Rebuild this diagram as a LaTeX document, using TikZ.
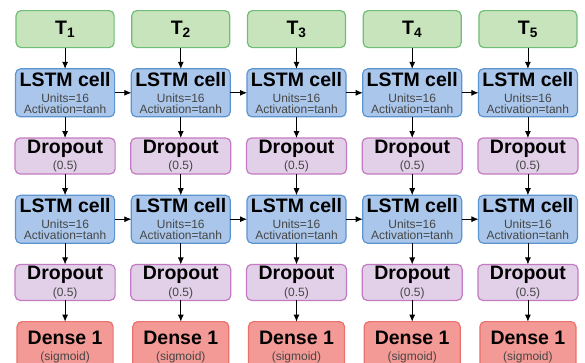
\documentclass[tikz,border=0pt]{standalone}
\usepackage{fontspec}
\setmainfont{Liberation Sans}
\usetikzlibrary{positioning,matrix,arrows.meta}
\definecolor{tgreen}{RGB}{112,190,118}
\definecolor{tgreenfill}{RGB}{200,228,188}
\definecolor{lblue}{RGB}{92,148,208}
\definecolor{lbluefill}{RGB}{170,199,235}
\definecolor{dpurple}{RGB}{196,122,194}
\definecolor{dpurplefill}{RGB}{226,208,232}
\definecolor{dred}{RGB}{236,112,108}
\definecolor{dredfill}{RGB}{244,154,150}
\definecolor{subgray}{RGB}{70,70,70}
\newcommand{\ttl}[1]{{\fontsize{19.5}{20}\selectfont\bfseries\color{black}#1}}
\tikzset{
netpic/.style={
  x=1pt,y=1pt
    ,inner sep=0pt
    ,outer sep=0pt
}
,box/.style={rounded corners=5pt,line width=1.2pt,align=center
  ,minimum width=98pt,text=subgray
  ,font=\fontsize{12}{11}\selectfont}
,timestep/.style={box,draw=tgreen,fill=tgreenfill,minimum height=37pt}
,lstm/.style={box,draw=lblue,fill=lbluefill,minimum height=48pt,minimum width=99pt}
,drop/.style={box,draw=dpurple,fill=dpurplefill,minimum height=36pt,minimum width=100pt}
,dense/.style={box,draw=dred,fill=dredfill,minimum height=50pt,minimum width=96pt}
,flow/.style={-{Latex[length=7pt,width=6pt]},line width=0.8pt,black}
,net/.style={column sep=14.5pt,row sep=20pt,inner sep=0pt,outer sep=0pt}
}

\begin{document}
\begin{tikzpicture}[netpic]
  \useasboundingbox (0,0) rectangle (585,-362);
  % network
  \matrix[net,anchor=north] (net) at (296.5,-10) {
    \node[timestep] (t1) {\ttl{T\textsubscript{1}}}; &
    \node[timestep] (t2) {\ttl{T\textsubscript{2}}}; &
    \node[timestep] (t3) {\ttl{T\textsubscript{3}}}; &
    \node[timestep] (t4) {\ttl{T\textsubscript{4}}}; &
    \node[timestep] (t5) {\ttl{T\textsubscript{5}}};
    \\
    \node[lstm] (lstma1) {\ttl{LSTM cell}\\[5pt]Units=16\\Activation=tanh}; &
    \node[lstm] (lstma2) {\ttl{LSTM cell}\\[5pt]Units=16\\Activation=tanh}; &
    \node[lstm] (lstma3) {\ttl{LSTM cell}\\[5pt]Units=16\\Activation=tanh}; &
    \node[lstm] (lstma4) {\ttl{LSTM cell}\\[5pt]Units=16\\Activation=tanh}; &
    \node[lstm] (lstma5) {\ttl{LSTM cell}\\[5pt]Units=16\\Activation=tanh};
    \\
    \node[drop] (dropa1) {\ttl{Dropout}\\[3pt](0.5)}; &
    \node[drop] (dropa2) {\ttl{Dropout}\\[3pt](0.5)}; &
    \node[drop] (dropa3) {\ttl{Dropout}\\[3pt](0.5)}; &
    \node[drop] (dropa4) {\ttl{Dropout}\\[3pt](0.5)}; &
    \node[drop] (dropa5) {\ttl{Dropout}\\[3pt](0.5)};
    \\
    \node[lstm] (lstmb1) {\ttl{LSTM cell}\\[5pt]Units=16\\Activation=tanh}; &
    \node[lstm] (lstmb2) {\ttl{LSTM cell}\\[5pt]Units=16\\Activation=tanh}; &
    \node[lstm] (lstmb3) {\ttl{LSTM cell}\\[5pt]Units=16\\Activation=tanh}; &
    \node[lstm] (lstmb4) {\ttl{LSTM cell}\\[5pt]Units=16\\Activation=tanh}; &
    \node[lstm] (lstmb5) {\ttl{LSTM cell}\\[5pt]Units=16\\Activation=tanh};
    \\
    \node[drop] (dropb1) {\ttl{Dropout}\\[3pt](0.5)}; &
    \node[drop] (dropb2) {\ttl{Dropout}\\[3pt](0.5)}; &
    \node[drop] (dropb3) {\ttl{Dropout}\\[3pt](0.5)}; &
    \node[drop] (dropb4) {\ttl{Dropout}\\[3pt](0.5)}; &
    \node[drop] (dropb5) {\ttl{Dropout}\\[3pt](0.5)};
    \\
    \node[dense] (dense1) {\ttl{Dense 1}\\[5pt](sigmoid)}; &
    \node[dense] (dense2) {\ttl{Dense 1}\\[5pt](sigmoid)}; &
    \node[dense] (dense3) {\ttl{Dense 1}\\[5pt](sigmoid)}; &
    \node[dense] (dense4) {\ttl{Dense 1}\\[5pt](sigmoid)}; &
    \node[dense] (dense5) {\ttl{Dense 1}\\[5pt](sigmoid)};
    \\
  };
  % arrows
  \foreach \i in {1,...,5}{
    \draw[flow] (t\i) -- (lstma\i);
    \draw[flow] (lstma\i) -- (dropa\i);
    \draw[flow] (dropa\i) -- (lstmb\i);
    \draw[flow] (lstmb\i) -- (dropb\i);
    \draw[flow] (dropb\i) -- (dense\i);
  }
  \foreach \i/\j in {1/2,2/3,3/4,4/5}{
    \draw[flow] (lstma\i) -- (lstma\j);
    \draw[flow] (lstmb\i) -- (lstmb\j);
  }
\end{tikzpicture}
\end{document}
